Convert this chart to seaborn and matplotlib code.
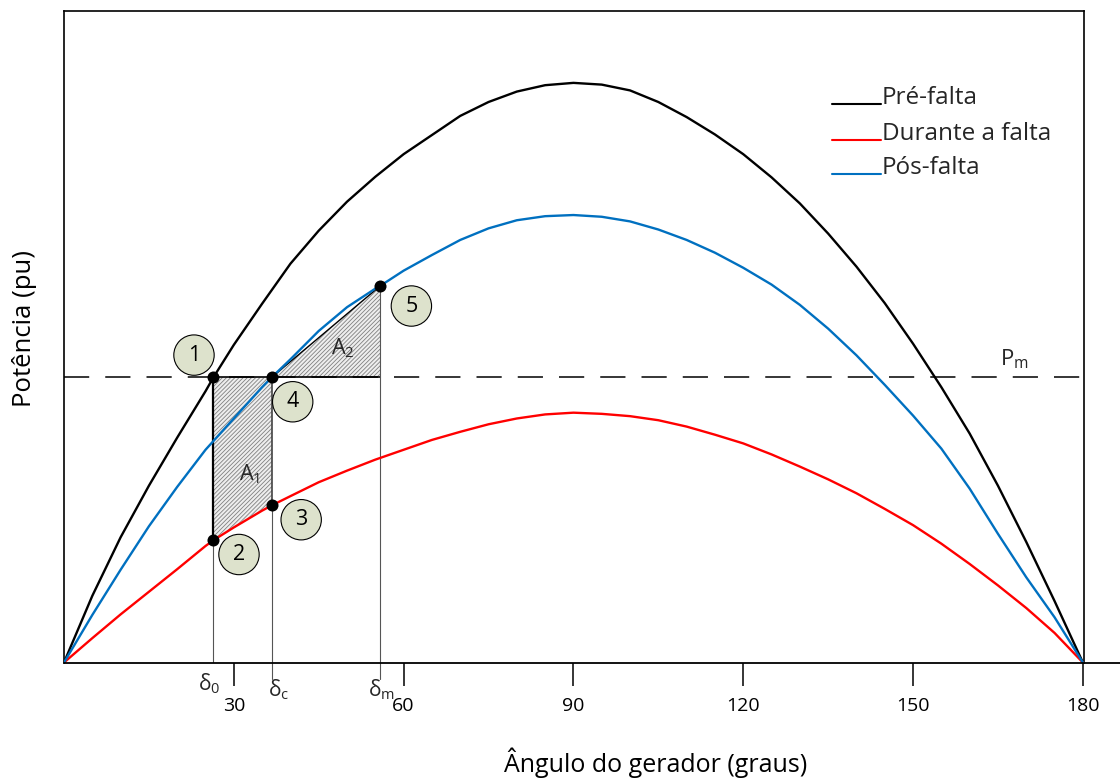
import matplotlib
matplotlib.use("Agg")
import matplotlib.pyplot as plt
import seaborn as sns
import pandas as pd

# power-angle curves (angle in degrees, power in pu, pre-fault peak = 1)
pre_angle = [0, 5, 10, 15, 20, 25, 26.4, 30, 35, 40, 45, 50, 55, 60, 65, 70, 75, 80, 85, 90,
             95, 100, 105, 110, 115, 120, 125, 130, 135, 140, 145, 150, 155, 160, 165, 170, 175, 180]
pre_power = [0, 0.115, 0.216, 0.305, 0.388, 0.468, 0.492, 0.548, 0.619, 0.688, 0.745, 0.795, 0.838,
             0.877, 0.910, 0.943, 0.967, 0.985, 0.996, 1.0,
             0.997, 0.987, 0.967, 0.941, 0.911, 0.877, 0.837, 0.792, 0.740, 0.683, 0.620, 0.550,
             0.475, 0.395, 0.305, 0.208, 0.106, 0]

fault_angle = [0, 5, 10, 15, 20, 25, 26.4, 30, 35, 36.7, 40, 45, 50, 55, 60, 65, 70, 75, 80, 85, 90,
               95, 100, 105, 110, 115, 120, 125, 130, 135, 140, 145, 150, 155, 160, 165, 170, 175, 180]
fault_power = [0, 0.042, 0.083, 0.122, 0.161, 0.201, 0.211, 0.233, 0.262, 0.271, 0.287, 0.311, 0.331,
               0.350, 0.367, 0.384, 0.398, 0.411, 0.421, 0.428, 0.431,
               0.429, 0.425, 0.418, 0.407, 0.393, 0.378, 0.359, 0.338, 0.316, 0.292, 0.265, 0.237,
               0.205, 0.170, 0.133, 0.094, 0.051, 0]

post_angle = [0, 5, 10, 15, 20, 25, 30, 35, 36.7, 40, 45, 50, 55, 55.9, 60, 65, 70, 75, 80, 85, 90,
              95, 100, 105, 110, 115, 120, 125, 130, 135, 140, 145, 150, 155, 160, 165, 170, 175, 180]
post_power = [0, 0.082, 0.160, 0.235, 0.303, 0.367, 0.421, 0.475, 0.492, 0.523, 0.572, 0.613, 0.645,
              0.650, 0.676, 0.703, 0.729, 0.749, 0.763, 0.770, 0.772,
              0.769, 0.761, 0.747, 0.729, 0.707, 0.681, 0.652, 0.617, 0.576, 0.530, 0.479, 0.426,
              0.369, 0.300, 0.222, 0.147, 0.078, 0]

curve_names = ["Pré-falta", "Durante a falta", "Pós-falta"]
curve_colors = ["#000000", "#ff0000", "#0070c0"]

pm = 0.492
delta0, deltac, deltam = 26.4, 36.7, 55.9
x_ticks = [30, 60, 90, 120, 150, 180]

p2 = fault_power[fault_angle.index(delta0)]
p3 = fault_power[fault_angle.index(deltac)]
p5 = post_power[post_angle.index(deltam)]

sns.set_theme(style="white")
plt.rcParams["font.family"] = ["Open Sans", "DejaVu Sans"]
plt.rcParams["mathtext.fontset"] = "custom"
plt.rcParams["mathtext.rm"] = "Open Sans"
plt.rcParams["hatch.linewidth"] = 0.6

fig = plt.figure(figsize=(11.2, 7.78), dpi=100)
ax = fig.add_axes([64 / 1120, 1 - 662.5 / 778, 1020 / 1120, 651.5 / 778])

df = pd.concat([
    pd.DataFrame({"angle": pre_angle, "power": pre_power, "curve": curve_names[0]}),
    pd.DataFrame({"angle": fault_angle, "power": fault_power, "curve": curve_names[1]}),
    pd.DataFrame({"angle": post_angle, "power": post_power, "curve": curve_names[2]}),
])
sns.lineplot(data=df, x="angle", y="power", hue="curve", hue_order=curve_names,
             palette=curve_colors, estimator=None, legend=False, lw=1.7, ax=ax, zorder=3)

ax.set_xlim(0, 180.2)
ax.set_ylim(0, 1.124)

# Pm line: dashed, solid between delta0 and deltam
ax.plot([0, 180.2], [pm, pm], color="black", lw=1.1, ls=(0, (16.5, 10.5)), zorder=2)
ax.plot([delta0, deltam], [pm, pm], color="black", lw=1.2, zorder=2)

# areas A1 / A2
ax.fill_between([delta0, deltac], [p2, p3], pm, facecolor="#eeeeee", edgecolor="#808080",
                hatch="////////", lw=0, zorder=1)
ax.fill([deltac, deltam, deltam], [pm, p5, pm], facecolor="#eeeeee", edgecolor="#808080",
        hatch="////////", lw=0, zorder=1)
ax.plot([deltac, deltam], [pm, p5], color="black", lw=1.0, zorder=2)

# vertical guides
ax.plot([delta0, delta0], [0, p2], color="#555555", lw=0.8, zorder=2)
ax.plot([delta0, delta0], [p2, pm], color="black", lw=1.6, zorder=2)
ax.plot([deltac, deltac], [-0.028, p3], color="#555555", lw=0.8, clip_on=False, zorder=2)
ax.plot([deltac, deltac], [p3, pm], color="#333333", lw=1.1, zorder=2)
ax.plot([deltam, deltam], [-0.028, p5], color="#555555", lw=0.8, clip_on=False, zorder=2)

# operating points and their numbered circles
pts_x = [delta0, delta0, deltac, deltac, deltam]
pts_y = [pm, p2, p3, pm, p5]
ax.scatter(pts_x, pts_y, s=75, color="black", zorder=6, linewidths=0)
offsets = [(-14, 16), (18.4, -10.3), (21.2, -10.3), (15.1, -17.6), (22.3, -14.6)]
for i, (x, y, off) in enumerate(zip(pts_x, pts_y, offsets), start=1):
    ax.annotate(str(i), xy=(x, y), xytext=off, textcoords="offset points",
                ha="center", va="center", fontsize=15.5, color="black", zorder=7,
                bbox=dict(boxstyle="circle,pad=0.45", fc="#dde2cc", ec="black", lw=0.8))

ax.text(32.85, 0.315, r"$\mathrm{A_1}$", fontsize=15.5, ha="center", va="baseline", zorder=4)
ax.text(49.2, 0.532, r"$\mathrm{A_2}$", fontsize=15.5, ha="center", va="baseline", zorder=4)
ax.text(167.9, 0.512, r"$\mathrm{P_m}$", fontsize=16, ha="center", va="baseline", zorder=4)

# delta labels under the axis
for lab, xv, off in [("0", delta0, (-3.4, -19.8)), ("c", deltac, (4.8, -24.5)), ("m", deltam, (0.6, -24.1))]:
    ax.annotate(r"$\mathrm{δ_%s}$" % lab, xy=(xv, 0), xytext=off, textcoords="offset points",
                ha="center", va="baseline", fontsize=15, annotation_clip=False)

# axes frame
for side in ["left", "top", "right"]:
    ax.spines[side].set_color("black")
    ax.spines[side].set_linewidth(1.2)
ax.spines["bottom"].set_visible(False)
ax.plot([0, 186.5], [0, 0], color="black", lw=1.3, clip_on=False, zorder=4)

ax.set_xticks(x_ticks)
ax.set_xticklabels([str(t) for t in x_ticks])
ax.set_yticks([])
ax.tick_params(axis="x", direction="out", bottom=True, length=16.5, width=1.1,
               pad=8, labelsize=14, colors="black")

ax.set_xlabel("Ângulo do gerador (graus)", fontsize=18, color="black")
ax.xaxis.set_label_coords((655.5 - 64) / 1020, (662.5 - 763) / 651.5)
ax.xaxis.label.set_va("center")
ax.set_ylabel("Potência (pu)", fontsize=18.5, color="black")
ax.yaxis.set_label_coords((25 - 64) / 1020, (662.5 - 329) / 651.5)
ax.yaxis.label.set_va("center")

# legend drawn as in the original: short line on the text baseline
leg_y = [0.858, 0.802, 0.750]
for name, color, y in zip(curve_names, curve_colors, leg_y):
    ax.plot([0.753, 0.801], [y, y], color=color, lw=1.5, transform=ax.transAxes)
    ax.text(0.802, y, name, fontsize=17.5, va="baseline", ha="left", transform=ax.transAxes)

fig.savefig("out.png", dpi=100)
